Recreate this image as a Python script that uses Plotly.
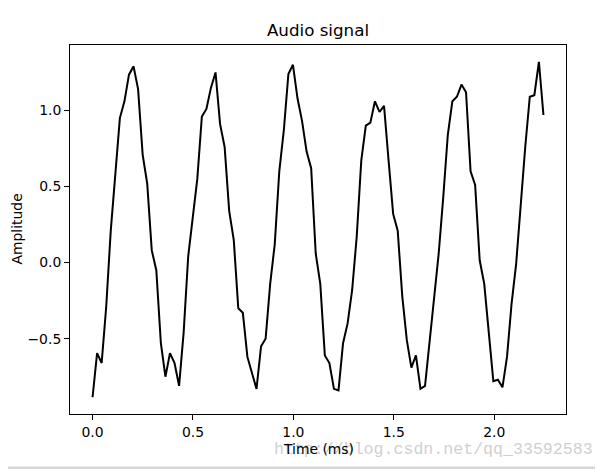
import numpy as np
import plotly.graph_objects as go

# Sampling: 44.1 kHz, first 100 samples, time axis in milliseconds
sample_rate_hz = 44100
n_samples = 100
time_ms = np.arange(n_samples) / sample_rate_hz * 1000.0

# Amplitude values
amplitude = [
    -0.885, -0.595, -0.66, -0.29, 0.21, 0.56, 0.95, 1.06, 1.235, 1.29,
    1.14, 0.71, 0.52, 0.08, -0.05, -0.53, -0.75, -0.595, -0.66, -0.81,
    -0.46, 0.04, 0.30, 0.55, 0.96, 1.01, 1.15, 1.25, 0.91, 0.76,
    0.34, 0.15, -0.30, -0.33, -0.62, -0.73, -0.83, -0.55, -0.50, -0.14,
    0.12, 0.60, 0.87, 1.24, 1.30, 1.08, 0.93, 0.73, 0.62, 0.06,
    -0.14, -0.61, -0.66, -0.83, -0.84, -0.53, -0.40, -0.18, 0.17, 0.67,
    0.90, 0.92, 1.06, 0.99, 1.03, 0.67, 0.32, 0.21, -0.22, -0.51,
    -0.69, -0.61, -0.83, -0.81, -0.53, -0.25, 0.06, 0.43, 0.84, 1.06,
    1.09, 1.17, 1.12, 0.60, 0.51, 0.015, -0.14, -0.46, -0.78, -0.77,
    -0.82, -0.62, -0.27, -0.01, 0.39, 0.76, 1.09, 1.10, 1.32, 0.97,
]

x_ticks = [0.0, 0.5, 1.0, 1.5, 2.0]
y_ticks = [-0.5, 0.0, 0.5, 1.0]
title_text = "Audio signal"
x_label = "Time (ms)"
y_label = "Amplitude"
watermark = "http://blog.csdn.net/qq_33592583"

FONT = "DejaVu Sans"
OFF = 8  # page body margin of the browser
W, H = 603 - OFF, 469 - OFF
PL, PR, PT, PB = 70, 566, 45, 414  # plot area in window pixels
PW, PH = PR - PL, PB - PT

def padded(vals, frac=0.05):
    lo, hi = float(np.min(vals)), float(np.max(vals))
    p = (hi - lo) * frac
    return [lo - p, hi + p]

def px_x(x):  # window pixel -> paper x
    return (x - PL) / PW

def px_y(y):  # window pixel -> paper y
    return (PB - y) / PH

fig = go.Figure()
fig.add_trace(go.Scatter(
    x=time_ms, y=amplitude, mode="lines",
    line=dict(color="black", width=2),
    hoverinfo="skip", showlegend=False,
))

axis_common = dict(
    showline=True, mirror=True, linecolor="black", linewidth=1,
    ticks="outside", ticklen=5, tickwidth=1, tickcolor="black",
    showgrid=False, zeroline=False, tickformat=".1f",
    tickfont=dict(family=FONT, size=13.9, color="black"),
)

fig.update_layout(
    width=W, height=H,
    margin=dict(l=PL - OFF, r=603 - PR, t=PT - OFF, b=469 - PB),
    paper_bgcolor="white", plot_bgcolor="white",
    font=dict(family=FONT, color="black"),
    title=dict(text=title_text, x=0.5, xref="paper", xanchor="center",
               y=1 - (30 - OFF) / H, yref="container", yanchor="middle",
               font=dict(family=FONT, size=16.7, color="black")),
    xaxis=dict(range=padded(time_ms), tickvals=x_ticks, **axis_common),
    yaxis=dict(range=padded(amplitude), tickvals=y_ticks, **axis_common),
)

# Watermark (light grey, behind the axis label)
fig.add_annotation(text=watermark, xref="paper", yref="paper",
                   x=px_x(272), y=px_y(449),
                   xanchor="left", yanchor="middle", showarrow=False,
                   font=dict(family="Liberation Mono", size=16.6, color="#d0d0d0"))

fig.add_annotation(text=x_label, xref="paper", yref="paper",
                   x=0.5, y=px_y(449), xanchor="center", yanchor="middle",
                   showarrow=False, font=dict(family=FONT, size=13.9, color="black"))
fig.add_annotation(text=y_label, xref="paper", yref="paper",
                   x=px_x(16), y=0.5, xanchor="center", yanchor="middle",
                   textangle=-90, showarrow=False, borderpad=0,
                   font=dict(family=FONT, size=13.9, color="black"))

# Grey strip along the bottom edge of the picture
fig.add_shape(type="rect", xref="paper", yref="paper",
              x0=px_x(0), x1=px_x(620),
              ysizemode="pixel", yanchor=0, y0=-(466.5 - PB), y1=-(470 - PB),
              line=dict(width=0), fillcolor="#d6d6d6", layer="above")

fig.write_html("out.html")
